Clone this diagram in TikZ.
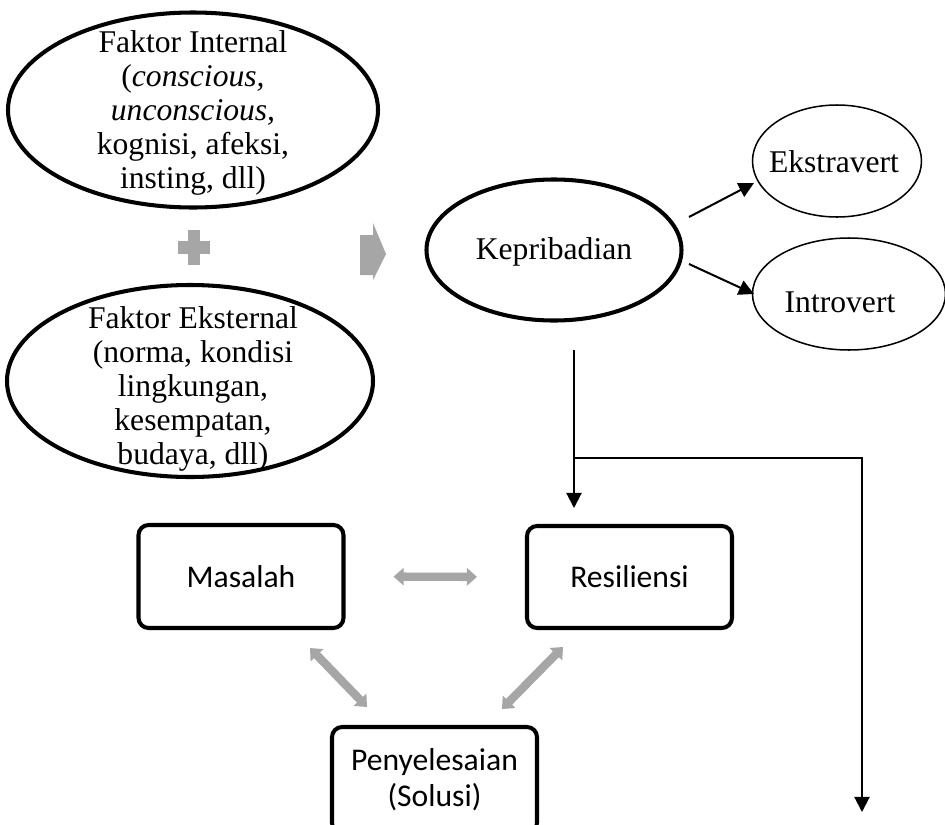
\documentclass[tikz,border=0pt]{standalone}
\usepackage{fontspec}
\setmainfont{Liberation Serif}
\newfontfamily\calibri{Carlito}
\usetikzlibrary{arrows.meta,shapes.geometric}
\def\pxu{0.3953pt}
\definecolor{arrgray}{RGB}{166,166,166}
\tikzset{
  bigell/.style={draw, ellipse, line width=1.6pt, inner sep=0pt},
  smallell/.style={draw, ellipse, line width=0.6pt, inner sep=0pt},
  elltext/.style={align=center, inner sep=0pt, font=\fontsize{12.5}{13.4}\selectfont},
  roundbox/.style={draw, rounded corners=4pt, line width=1.6pt, align=center,
    minimum width=205*\pxu, inner sep=0pt, font=\calibri\fontsize{12.5}{14.2}\selectfont},
  blackarr/.style={line width=0.8pt, -{Triangle[length=6pt,width=6pt]}},
  grayarr/.style={draw=arrgray, line width=3.3pt,
    {Triangle[length=4pt,width=6.8pt]}-{Triangle[length=4pt,width=6.8pt]}},
  grayshape/.style={fill=arrgray, draw=none}
}
\begin{document}
\begin{tikzpicture}[x=\pxu, y=-\pxu]
\useasboundingbox (0,0) rectangle (945,825);

% ellipses
\node[bigell, minimum width=370*\pxu, minimum height=195*\pxu] (int) at (193,110) {};
\node[elltext] (intt) at (193,113)
  {Faktor Internal\\(\textit{conscious,}\\\textit{unconscious,}\\kognisi, afeksi,\\insting, dll)};
\node[bigell, minimum width=366*\pxu, minimum height=192*\pxu] (ext) at (190,381) {};
\node[elltext] (extt) at (193,389)
  {Faktor Eksternal\\(norma, kondisi\\lingkungan,\\kesempatan,\\budaya, dll)};
\node[bigell, minimum width=255*\pxu, minimum height=141*\pxu] (kep) at (554,250) {};
\node[elltext] (kept) at (554,252) {Kepribadian};
\node[smallell, minimum width=169*\pxu, minimum height=112*\pxu] (eks) at (837,161) {};
\node[elltext] (ekst) at (834,162) {Ekstravert};
\node[smallell, minimum width=193*\pxu, minimum height=112*\pxu] (intro) at (849,294) {};
\node[elltext] (introt) at (840,302) {Introvert};

% plus sign
\fill[grayshape] (188,230) rectangle (200,265);
\fill[grayshape] (178,241) rectangle (210,254);
% gray pentagon arrow
\fill[grayshape] (360,235) -- (373,235) -- (373,223) -- (386,254) -- (373,280) -- (373,275) -- (360,275) -- cycle;

% boxes
\node[roundbox, minimum height=103*\pxu] (mas) at (241,576.5) {Masalah};
\node[roundbox, minimum height=102*\pxu] (res) at (629.5,577) {Resiliensi};
\node[roundbox, minimum height=106*\pxu] (pen) at (434.5,780) {Penyelesaian\\(Solusi)};

% black arrows to Ekstravert / Introvert
\coordinate (k1) at (689,217);
\coordinate (e1) at (754,183);
\coordinate (k2) at (689,264);
\coordinate (i1) at (754,294);
\draw[blackarr] (k1) -- (e1);
\draw[blackarr] (k2) -- (i1);

% vertical line down to Resiliensi and branch
\coordinate (v0) at (574,350);
\coordinate (v1) at (574,508);
\coordinate (j) at (574,458);
\coordinate (jr) at (862,458);
\coordinate (end) at (862,812);
\draw[blackarr] (v0) -- (v1);
\draw[blackarr] (j) -- (jr) -- (end);

% gray double arrows
\draw[grayarr, shorten <=48*\pxu, shorten >=48*\pxu] (mas.east) -- (res.west);
\coordinate (d1a) at (310,648);
\coordinate (d1b) at (367,707);
\coordinate (d2a) at (502,709);
\coordinate (d2b) at (563,647);
\draw[grayarr] (d1a) -- (d1b);
\draw[grayarr] (d2a) -- (d2b);
\end{tikzpicture}
\end{document}
